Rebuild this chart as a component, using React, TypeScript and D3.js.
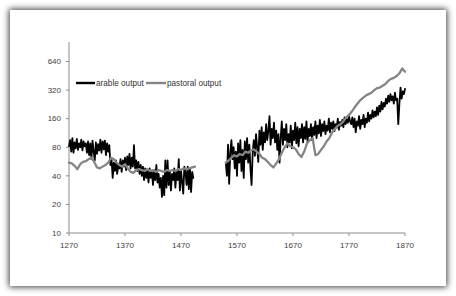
import React from 'react';
import * as d3 from 'd3';

// ---- data ----
const xTicks = [1270, 1370, 1470, 1570, 1670, 1770, 1870];
const yTicks = [10, 20, 40, 80, 160, 320, 640];
const seriesNames = ['arable output', 'pastoral output'];

const arableYears1 = d3.range(1270, 1493, 2);
const arable1 = [
  82, 95, 72, 100, 70, 90, 78, 98, 75, 88,
  80, 96, 74, 92, 82, 88, 70, 92, 66, 88,
  60, 94, 72, 58, 90, 68, 86, 74, 96, 70,
  92, 76, 94, 66, 88, 72, 84, 52, 60, 38,
  55, 45, 58, 42, 52, 48, 60, 44, 58, 50,
  62, 46, 64, 52, 68, 48, 62, 50, 84, 48,
  58, 45, 56, 42, 52, 40, 50, 36, 48, 38,
  46, 34, 48, 38, 44, 32, 46, 36, 52, 34,
  42, 30, 38, 24, 40, 25, 58, 30, 58, 32,
  44, 28, 42, 36, 48, 30, 44, 36, 60, 28,
  46, 34, 26, 50, 44, 32, 50, 29, 48, 27,
  44, 38,
];

const arableYears2 = d3.range(1550, 1871, 2);
const arable2 = [
  55, 40, 85, 33, 70, 95, 60, 80, 48, 72,
  40, 88, 55, 95, 45, 75, 38, 92, 60, 100,
  55, 85, 48, 32, 70, 95, 65, 110, 80, 56,
  120, 85, 130, 75, 115, 90, 140, 95, 120, 170,
  85, 125, 100, 145, 90, 120, 75, 110, 55, 100,
  150, 85, 125, 95, 140, 80, 110, 90, 135, 78,
  120, 95, 145, 88, 130, 82, 125, 100, 140, 90,
  130, 98, 150, 92, 125, 105, 140, 95, 130, 108,
  150, 100, 135, 112, 155, 105, 140, 118, 150, 110,
  135, 120, 160, 115, 145, 125, 150, 118, 140, 128,
  160, 122, 148, 135, 155, 130, 165, 140, 158, 145,
  170, 150, 140, 165, 130, 160, 115, 150, 135, 170,
  125, 155, 140, 175, 130, 160, 145, 185, 150, 175,
  160, 195, 165, 190, 170, 210, 175, 220, 190, 240,
  200, 235, 215, 260, 230, 280, 240, 290, 250, 275,
  230, 300, 250, 260, 140, 230, 340, 260, 310, 290,
  330,
];

const pastoralYears1 = d3.range(1270, 1496, 5);
const pastoral1 = [
  55, 54, 51, 47, 53, 56, 57, 60, 62, 56,
  49, 48, 50, 52, 55, 62, 60, 55, 52, 50,
  53, 48, 44, 43, 46, 47, 46, 45, 47, 45,
  46, 44, 46, 45, 44, 46, 45, 46, 45, 47,
  46, 48, 47, 48, 49, 50,
];

const pastoralYears2 = d3.range(1550, 1871, 5);
const pastoral2 = [
  55, 58, 62, 66, 64, 68, 66, 72, 70, 74,
  76, 72, 68, 62, 60, 56, 52, 49, 54, 60,
  70, 80, 88, 82, 80, 76, 68, 63, 72, 88,
  95, 100, 66, 68, 75, 82, 92, 100, 115, 125,
  135, 140, 150, 165, 175, 190, 210, 230, 250, 265,
  280, 290, 300, 320, 335, 340, 355, 370, 400, 420,
  430, 450, 480, 540, 500,
];

const FONT = '"Liberation Sans", Arial, sans-serif';

export default function App() {
  const W = 456, H = 296;
  const plotLeft = 69, plotRight = 405, plotBottom = 233, plotTop = 42;
  const x = d3.scaleLinear().domain([1270, 1870]).range([plotLeft, plotRight]);
  const y = d3.scaleLog().base(2).domain([10, 640]).range([plotBottom, 61.5]);
  const line = d3.line<[number, number]>().x(d => x(d[0])).y(d => y(d[1]));

  const seg = (ys: number[], vs: number[]) => line(ys.map((yr, i) => [yr, vs[i]] as [number, number])) || '';

  const axisColor = '#8c8c8c';
  const textColor = '#404040';

  return (
    <svg width={W} height={H} style={{ position: 'absolute', left: 0, top: 0, display: 'block' }}>
      <defs>
        <filter id="shadow" x="-10%" y="-10%" width="120%" height="120%">
          <feGaussianBlur stdDeviation="3.4" />
        </filter>
      </defs>
      <rect x={0} y={0} width={W} height={H} fill="#fff" />
      <rect x={9} y={9} width={438} height={278} fill="#3a3a3a" filter="url(#shadow)" />
      <rect x={10} y={10} width={436} height={276} fill="#fff" />

      {/* axes */}
      <line x1={plotLeft} x2={plotLeft} y1={plotTop} y2={plotBottom} stroke={axisColor} strokeWidth={1} />
      <line x1={plotLeft} x2={plotRight} y1={plotBottom} y2={plotBottom} stroke={axisColor} strokeWidth={1} />
      {yTicks.map(t => (
        <g key={'y' + t}>
          <line x1={plotLeft - 3} x2={plotLeft} y1={y(t)} y2={y(t)} stroke={axisColor} />
          <text x={plotLeft - 8} y={y(t)} dy="0.35em" textAnchor="end" fontFamily={FONT} fontSize={8} fill={textColor}>{t}</text>
        </g>
      ))}
      {xTicks.map(t => (
        <g key={'x' + t}>
          <line x1={x(t)} x2={x(t)} y1={plotBottom} y2={plotBottom + 3} stroke={axisColor} />
          <text x={x(t)} y={plotBottom + 15} textAnchor="middle" fontFamily={FONT} fontSize={8} fill={textColor}>{t}</text>
        </g>
      ))}

      {/* series */}
      <g fill="none" strokeLinejoin="round" strokeLinecap="round">
        <path d={seg(arableYears1, arable1)} stroke="#000" strokeWidth={1.8} />
        <path d={seg(arableYears2, arable2)} stroke="#000" strokeWidth={1.8} />
        <path d={seg(pastoralYears1, pastoral1)} stroke="#858585" strokeWidth={2.3} />
        <path d={seg(pastoralYears2, pastoral2)} stroke="#858585" strokeWidth={2.3} />
      </g>

      {/* legend */}
      <g fontFamily={FONT} fontSize={8.2} fill="#333">
        <line x1={76} x2={95} y1={83} y2={83} stroke="#000" strokeWidth={2.4} />
        <text x={96} y={83} dy="0.35em">{seriesNames[0]}</text>
        <line x1={146} x2={166} y1={83} y2={83} stroke="#858585" strokeWidth={2.4} />
        <text x={167} y={83} dy="0.35em">{seriesNames[1]}</text>
      </g>
    </svg>
  );
}
